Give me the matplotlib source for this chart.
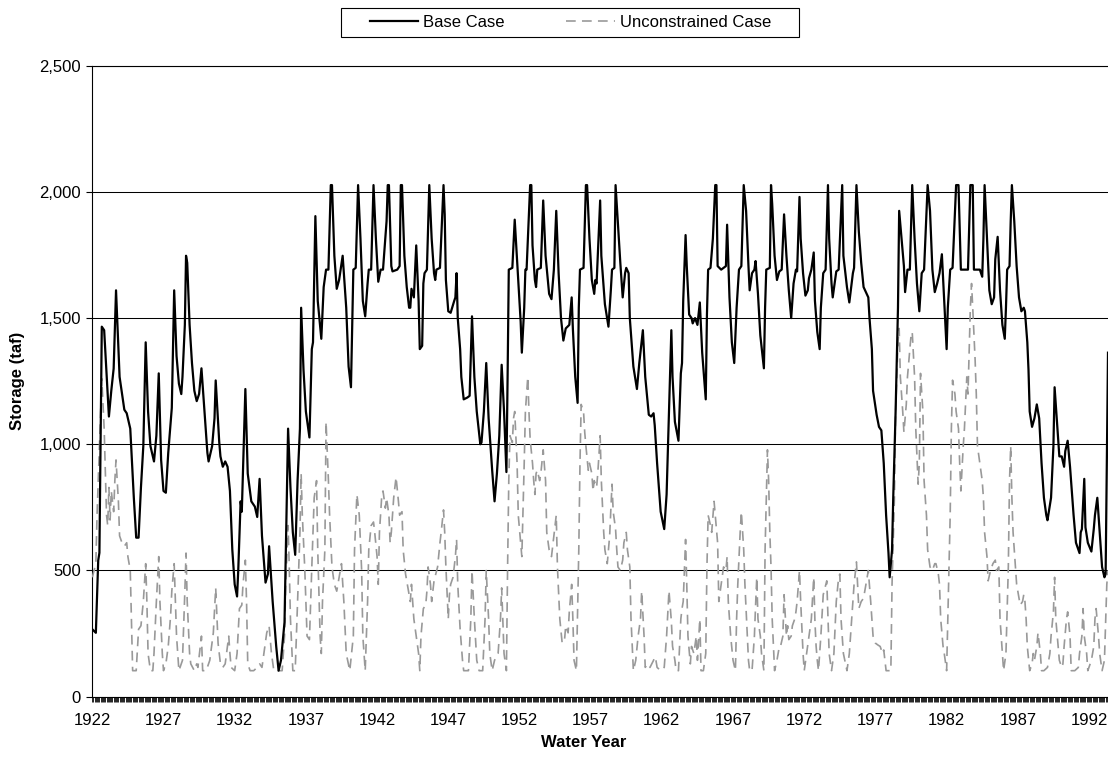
import numpy as np
import matplotlib
matplotlib.use("Agg")
import matplotlib.pyplot as plt
from matplotlib.patches import Rectangle
from matplotlib.ticker import FuncFormatter, FixedLocator

plt.rcParams['font.family'] = ['Liberation Sans', 'DejaVu Sans']
plt.rcParams['lines.scale_dashes'] = False

# month index counted from Oct 1921 (water year 1922), storage in taf
base_month = [0, 3, 5, 6, 8, 10, 14, 16, 18, 20, 23, 27, 29, 32, 35, 37, 39, 41, 43, 45,
              47, 49, 52, 54, 56, 58, 60, 62, 64, 67, 69, 71, 73, 75, 76, 78, 79, 80, 82, 84,
              86, 88, 90, 92, 95, 97, 98, 101, 103, 104, 107, 108, 110, 112, 114, 116, 118, 120, 122, 123,
              125, 126, 129, 131, 134, 137, 139, 141, 143, 146, 148, 149, 152, 155, 157, 159, 162, 165, 167, 169,
              171, 173, 175, 176, 178, 180, 183, 185, 186, 188, 190, 193, 195, 197, 199, 201, 202, 204, 206, 208,
              211, 214, 216, 218, 220, 222, 224, 226, 228, 230, 232, 233, 235, 237, 239, 241, 243, 245, 248, 249,
              250, 252, 253, 257, 259, 260, 261, 263, 265, 267, 268, 269, 271, 273, 275, 276, 278, 279, 280, 282,
              284, 286, 288, 289, 290, 293, 296, 297, 298, 300, 302, 305, 306, 307, 308, 310, 311, 313, 316, 318,
              320, 322, 324, 327, 328, 330, 332, 334, 337, 339, 341, 343, 345, 347, 349, 350, 351, 354, 356, 359,
              361, 362, 364, 365, 366, 369, 370, 371, 373, 374, 375, 378, 380, 382, 385, 387, 389, 391, 393, 395,
              397, 399, 402, 404, 405, 407, 409, 410, 411, 414, 416, 417, 419, 421, 423, 424, 425, 428, 429, 432,
              435, 437, 438, 440, 441, 443, 445, 447, 449, 450, 452, 453, 456, 459, 461, 464, 466, 469, 471, 473,
              474, 476, 479, 482, 484, 486, 488, 489, 491, 494, 496, 497, 498, 500, 501, 503, 505, 506, 508, 509,
              510, 512, 514, 517, 518, 519, 521, 523, 525, 526, 527, 530, 534, 535, 537, 539, 541, 543, 545, 547,
              549, 551, 553, 554, 556, 558, 559, 561, 563, 566, 567, 568, 571, 572, 573, 575, 577, 579, 581, 583,
              585, 587, 589, 591, 593, 594, 596, 597, 599, 601, 603, 604, 606, 608, 609, 611, 613, 614, 616, 618,
              620, 621, 623, 624, 627, 629, 632, 633, 636, 638, 641, 642, 644, 646, 648, 650, 652, 654, 655, 657,
              658, 661, 663, 665, 667, 669, 671, 672, 674, 675, 677, 679, 680, 682, 684, 685, 687, 689, 691, 693,
              695, 697, 699, 701, 704, 706, 708, 710, 712, 714, 716, 718, 720, 721, 723, 725, 728, 730, 732, 735,
              738, 740, 742, 743, 746, 748, 750, 751, 752, 754, 756, 758, 760, 761, 763, 765, 767, 769, 770, 771,
              773, 774, 775, 777, 779, 781, 783, 785, 786, 788, 789, 790, 792, 794, 796, 798, 800, 802, 804, 805,
              808, 810, 811, 813, 815, 817, 819, 820, 822, 824, 827, 829, 832, 833, 834, 836, 837, 839, 842, 844,
              845, 847, 849, 851, 853, 854, 855, 856]
base_taf = [267, 253, 540, 570, 1466, 1452, 1110, 1212, 1300, 1610, 1267, 1137, 1123, 1062, 788, 630, 630, 829, 993, 1404,
            1130, 993, 932, 1034, 1281, 938, 815, 808, 966, 1144, 1610, 1350, 1240, 1199, 1267, 1473, 1747, 1719, 1473, 1322,
            1212, 1171, 1199, 1301, 1103, 966, 932, 993, 1103, 1253, 1007, 952, 911, 932, 911, 815, 582, 445, 397, 500,
            774, 733, 1219, 884, 774, 753, 712, 863, 637, 452, 486, 596, 377, 199, 103, 144, 295, 1062, 829, 651,
            562, 856, 1062, 1541, 1295, 1130, 1027, 1377, 1404, 1904, 1568, 1418, 1623, 1692, 1692, 2027, 2027, 1747, 1616, 1651,
            1747, 1541, 1308, 1226, 1692, 1699, 2027, 1815, 1568, 1507, 1637, 1692, 1692, 2027, 1815, 1644, 1692, 1692, 1884, 2027,
            2027, 1706, 1685, 1692, 1706, 2027, 2027, 1747, 1623, 1541, 1541, 1616, 1582, 1788, 1568, 1377, 1390, 1637, 1678, 1692,
            2027, 1815, 1678, 1651, 1692, 1699, 2027, 1911, 1651, 1527, 1521, 1568, 1582, 1678, 1500, 1377, 1267, 1178, 1185, 1192,
            1507, 1267, 1130, 1000, 1007, 1130, 1322, 1103, 897, 774, 884, 1034, 1315, 1130, 890, 1267, 1692, 1699, 1890, 1651,
            1486, 1363, 1541, 1692, 1692, 2027, 2027, 1788, 1651, 1623, 1692, 1699, 1966, 1747, 1596, 1575, 1692, 1925, 1678, 1500,
            1411, 1459, 1473, 1582, 1459, 1267, 1164, 1541, 1692, 1699, 2027, 2027, 1815, 1651, 1596, 1651, 1637, 1966, 1747, 1555,
            1466, 1610, 1692, 1699, 2027, 1870, 1719, 1582, 1678, 1699, 1678, 1500, 1308, 1219, 1322, 1452, 1267, 1117, 1110, 1123,
            1075, 925, 733, 664, 801, 1130, 1452, 1267, 1089, 1014, 1281, 1322, 1568, 1829, 1706, 1514, 1500, 1479, 1500, 1486,
            1473, 1562, 1363, 1178, 1514, 1692, 1699, 1815, 2027, 2027, 1706, 1692, 1706, 1870, 1582, 1404, 1322, 1541, 1692, 1706,
            2027, 1925, 1706, 1610, 1678, 1692, 1726, 1596, 1431, 1301, 1541, 1692, 1699, 2027, 1952, 1747, 1651, 1685, 1692, 1911,
            1747, 1610, 1500, 1637, 1692, 1685, 1980, 1815, 1678, 1589, 1610, 1658, 1692, 1760, 1569, 1445, 1377, 1541, 1678, 1692,
            2027, 1815, 1637, 1582, 1685, 1692, 2027, 1747, 1623, 1562, 1678, 1699, 2027, 1843, 1719, 1623, 1603, 1582, 1500, 1377,
            1212, 1117, 1069, 1055, 925, 719, 569, 473, 582, 788, 1130, 1541, 1925, 1815, 1706, 1603, 1692, 1692, 2027, 1815,
            1637, 1527, 1678, 1692, 2027, 1925, 1692, 1603, 1637, 1678, 1753, 1568, 1377, 1541, 1692, 1699, 2027, 2027, 1692, 1692,
            1692, 2027, 2027, 1692, 1692, 1692, 1664, 1815, 2027, 1815, 1610, 1555, 1582, 1733, 1822, 1610, 1473, 1418, 1541, 1692,
            1706, 1884, 2027, 1884, 1706, 1582, 1527, 1541, 1527, 1404, 1295, 1130, 1069, 1103, 1158, 1103, 925, 788, 719, 699,
            788, 993, 1226, 1089, 952, 952, 911, 973, 1014, 911, 719, 610, 569, 651, 664, 863, 671, 610, 575, 664,
            719, 788, 651, 514, 473, 486, 925, 1363]

unc_month = [0, 3, 4, 6, 8, 10, 12, 13, 14, 15, 16, 18, 19, 20, 22, 23, 25, 27, 29, 30,
             32, 33, 34, 37, 39, 41, 43, 45, 46, 47, 49, 51, 52, 54, 56, 57, 59, 60, 62, 64,
             66, 67, 69, 70, 71, 73, 76, 78, 79, 80, 82, 83, 86, 88, 89, 92, 93, 96, 99, 102,
             104, 106, 108, 110, 112, 115, 116, 117, 120, 122, 124, 126, 127, 129, 130, 131, 133, 136, 139, 141,
             143, 145, 147, 149, 151, 153, 157, 160, 162, 163, 165, 166, 167, 169, 171, 173, 175, 176, 177, 179,
             181, 183, 185, 187, 189, 190, 192, 193, 194, 196, 197, 199, 200, 202, 204, 206, 208, 210, 212, 214,
             217, 220, 221, 223, 225, 227, 228, 230, 232, 233, 235, 237, 238, 240, 241, 242, 244, 245, 247, 248,
             250, 251, 252, 254, 256, 258, 259, 261, 262, 264, 267, 268, 269, 271, 273, 275, 276, 277, 279, 281,
             282, 283, 285, 286, 288, 291, 293, 294, 296, 297, 298, 300, 301, 302, 304, 306, 307, 308, 310, 312,
             313, 317, 319, 320, 322, 324, 326, 329, 331, 332, 334, 335, 337, 339, 342, 344, 345, 347, 349, 350,
             351, 352, 354, 355, 356, 358, 359, 362, 364, 365, 367, 368, 369, 371, 372, 373, 374, 375, 377, 378,
             380, 382, 383, 385, 387, 389, 391, 392, 394, 396, 398, 399, 401, 402, 404, 405, 406, 408, 410, 411,
             412, 414, 415, 416, 418, 419, 421, 422, 423, 425, 426, 428, 429, 431, 432, 434, 436, 438, 439, 441,
             442, 443, 445, 447, 448, 450, 451, 453, 454, 456, 458, 460, 462, 463, 465, 466, 468, 470, 473, 474,
             475, 476, 479, 482, 484, 486, 488, 489, 491, 492, 494, 496, 497, 498, 500, 501, 502, 504, 505, 507,
             509, 510, 512, 513, 515, 517, 518, 519, 521, 522, 524, 525, 527, 528, 530, 532, 534, 535, 536, 538,
             540, 542, 543, 544, 546, 547, 549, 550, 552, 553, 554, 556, 558, 559, 560, 561, 563, 564, 566, 567,
             568, 569, 570, 571, 572, 573, 575, 577, 579, 580, 582, 583, 585, 586, 587, 589, 590, 592, 593, 594,
             596, 597, 599, 600, 602, 604, 606, 608, 609, 610, 611, 612, 614, 616, 619, 620, 621, 623, 625, 627,
             629, 630, 631, 633, 636, 638, 640, 642, 644, 646, 648, 650, 652, 654, 656, 658, 660, 662, 664, 666,
             667, 669, 673, 674, 676, 677, 679, 680, 681, 683, 684, 686, 687, 689, 690, 691, 693, 694, 696, 697,
             698, 700, 701, 703, 704, 706, 708, 710, 711, 713, 714, 715, 717, 718, 720, 721, 723, 724, 725, 727,
             728, 730, 731, 732, 734, 735, 737, 738, 740, 741, 742, 744, 745, 746, 748, 750, 751, 752, 754, 755,
             757, 758, 759, 761, 762, 764, 765, 767, 768, 770, 772, 773, 774, 775, 776, 778, 779, 781, 782, 784,
             785, 786, 787, 788, 790, 792, 793, 794, 796, 797, 799, 800, 802, 805, 807, 808, 810, 811, 812, 814,
             815, 817, 818, 819, 821, 822, 824, 825, 828, 831, 832, 834, 835, 836, 838, 839, 842, 844, 845, 846,
             848, 849, 851, 853, 855, 856]
unc_taf = [473, 527, 719, 993, 1260, 1062, 719, 678, 829, 700, 815, 733, 856, 938, 774, 637, 610, 596, 610, 555,
           500, 308, 103, 103, 267, 281, 377, 527, 377, 171, 103, 103, 171, 377, 555, 377, 171, 103, 130, 199,
           322, 418, 527, 377, 240, 103, 144, 418, 569, 377, 171, 130, 103, 130, 116, 240, 103, 103, 144, 253,
           431, 212, 130, 116, 130, 240, 171, 116, 103, 171, 349, 363, 445, 541, 377, 130, 103, 103, 116, 130,
           116, 185, 253, 281, 171, 103, 103, 103, 240, 445, 678, 514, 308, 103, 103, 377, 651, 884, 719, 514,
           240, 226, 514, 788, 856, 582, 240, 171, 377, 582, 1089, 856, 719, 514, 445, 418, 473, 527, 377, 171,
           103, 240, 582, 801, 719, 500, 240, 103, 377, 582, 678, 692, 651, 555, 445, 651, 800, 815, 747, 788,
           719, 610, 651, 788, 870, 774, 719, 733, 582, 486, 404, 377, 445, 308, 240, 171, 103, 240, 349, 363,
           418, 514, 445, 377, 459, 514, 610, 651, 740, 651, 514, 308, 404, 445, 473, 555, 623, 445, 267, 144,
           103, 103, 308, 500, 308, 144, 103, 103, 308, 500, 308, 171, 103, 144, 171, 308, 431, 171, 103, 514,
           856, 1034, 1007, 1103, 1130, 925, 719, 555, 925, 1130, 1267, 1130, 1021, 925, 856, 801, 884, 897, 856, 884,
           978, 856, 651, 582, 555, 637, 719, 514, 308, 212, 226, 281, 253, 336, 445, 308, 144, 103, 582, 925,
           1158, 1130, 1048, 993, 897, 925, 884, 815, 856, 829, 884, 1034, 856, 651, 582, 527, 637, 842, 733, 664,
           582, 514, 500, 541, 610, 651, 582, 514, 308, 103, 144, 240, 308, 418, 240, 116, 130, 116, 144, 158,
           144, 116, 103, 116, 240, 420, 300, 200, 144, 103, 103, 308, 349, 377, 623, 445, 240, 130, 199, 171,
           240, 144, 308, 103, 103, 171, 514, 719, 678, 651, 774, 719, 610, 377, 445, 514, 500, 555, 377, 240,
           144, 103, 308, 445, 651, 733, 582, 445, 240, 144, 103, 103, 240, 363, 473, 308, 240, 171, 103, 582,
           788, 978, 856, 651, 514, 308, 103, 144, 199, 199, 240, 404, 240, 281, 226, 240, 281, 308, 336, 377,
           500, 377, 171, 103, 171, 240, 308, 473, 300, 200, 144, 103, 240, 404, 459, 308, 171, 103, 171, 377,
           473, 486, 308, 171, 103, 171, 308, 445, 534, 349, 377, 390, 445, 500, 377, 240, 212, 205, 199, 171,
           185, 103, 103, 445, 788, 1130, 1404, 1459, 1267, 1130, 1048, 1158, 1267, 1377, 1431, 1445, 1267, 1062, 842, 925,
           1281, 1130, 856, 719, 582, 514, 500, 527, 527, 486, 445, 308, 199, 171, 103, 308, 719, 1062, 1254, 1199,
           1130, 1062, 925, 815, 993, 1062, 1267, 1199, 1541, 1637, 1541, 1336, 1199, 993, 925, 856, 788, 651, 555, 459,
           500, 514, 527, 541, 500, 514, 308, 171, 103, 171, 514, 856, 993, 788, 651, 514, 445, 390, 363, 377,
           404, 377, 308, 199, 103, 130, 171, 144, 199, 253, 171, 103, 103, 116, 171, 240, 336, 473, 308, 199,
           144, 116, 130, 199, 308, 336, 240, 103, 103, 116, 171, 240, 349, 240, 171, 103, 144, 199, 308, 349,
           240, 171, 103, 144, 445, 500]

years = [str(1922 + 5 * k) for k in range(15)]

fig = plt.figure(figsize=(11.08, 7.57), dpi=100)
ax = fig.add_axes([0.0833, 0.0797, 0.9167, 0.8335])

ax.plot(unc_month, unc_taf, color='#999999', lw=1.2, dashes=(7, 4.5), label='Unconstrained Case', zorder=3)
ax.plot(base_month, base_taf, color='black', lw=1.6, label='Base Case', zorder=4)

ax.set_xlim(0, 856)
ax.set_ylim(0, 2500)
ax.xaxis.set_major_locator(FixedLocator([60 * k for k in range(15)]))
ax.set_xticklabels(years)
ax.xaxis.set_minor_locator(FixedLocator(np.arange(0, 857)))
ax.set_yticks(np.arange(0, 2501, 500))
ax.yaxis.set_major_formatter(FuncFormatter(lambda v, p: f"{int(v):,}"))
ax.tick_params(axis='x', which='both', length=3.6, width=0.6, direction='out', labelsize=12, pad=8)
ax.tick_params(axis='y', length=4.3, width=0.8, direction='out', labelsize=12, pad=4)
ax.grid(axis='y', color='black', lw=0.75, zorder=1)
for s in ['left', 'bottom', 'top']:
    ax.spines[s].set_color('black')
    ax.spines[s].set_linewidth(0.8)
ax.spines['right'].set_visible(False)

fig.text(0.0162, 0.4967, 'Storage (taf)', rotation=90, ha='center', va='center', fontsize=12, fontweight='bold')
fig.text(0.5271, 0.0185, 'Water Year', ha='center', va='center', fontsize=12, fontweight='bold')

# legend box on top
fig.patches.append(Rectangle((0.3075, 0.9515), 0.4139, 0.0375, transform=fig.transFigure,
                             facecolor='white', edgecolor='black', lw=0.8))
h, l = ax.get_legend_handles_labels()
fig.legend(h[::-1], l[::-1], loc='center', bbox_to_anchor=(0.5149, 0.9703), ncol=2, frameon=False,
           fontsize=12, handlelength=2.9, handletextpad=0.3, columnspacing=3.7)

fig.savefig('out.png', dpi=100)
